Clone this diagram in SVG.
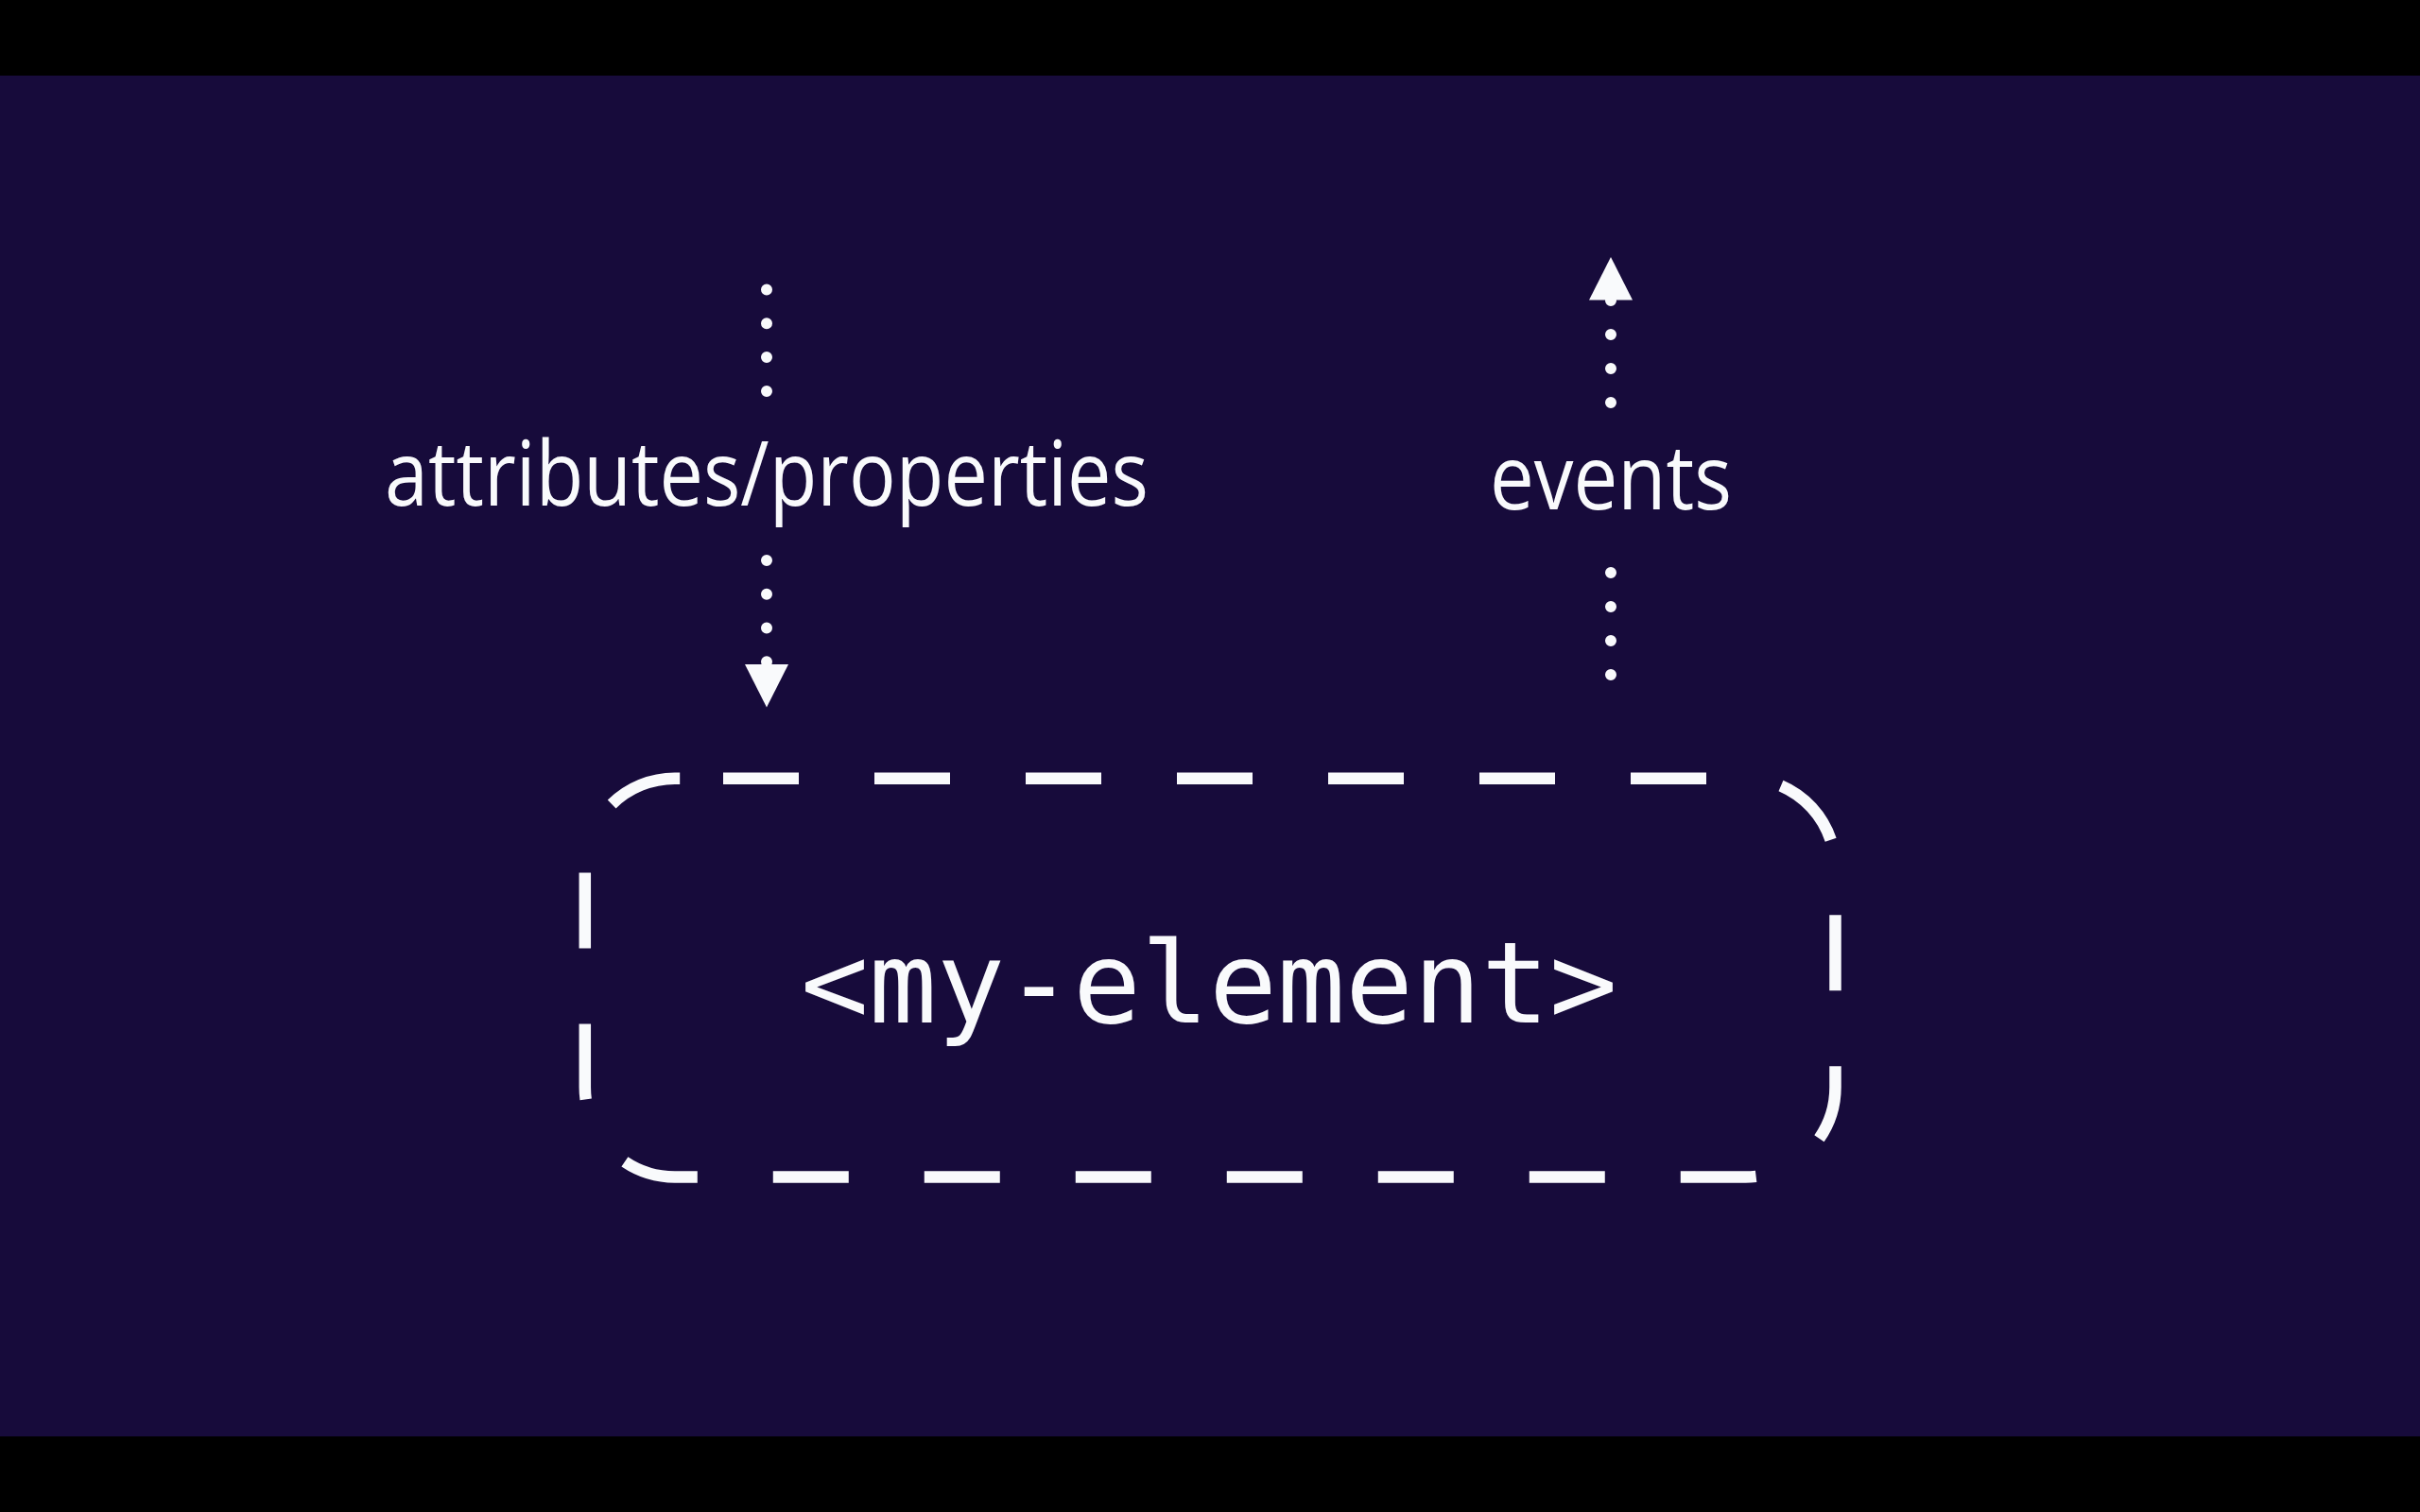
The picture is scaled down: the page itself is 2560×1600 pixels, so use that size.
<svg xmlns="http://www.w3.org/2000/svg" width="2560" height="1600" viewBox="0 0 2560 1600">
  <defs>
    <style>
      .label { font-family: "Open Sans", "Noto Sans", "Liberation Sans", sans-serif; font-size: 96px; fill: #f9fafc; }
      .code { font-family: "DejaVu Sans Mono", "Liberation Mono", monospace; font-size: 119px; fill: #f9fafc; }
      .dots { fill: none; stroke: #f9fafc; stroke-width: 12; stroke-linecap: round; }
      .box { fill: none; stroke: #f9fafc; stroke-width: 12.5; stroke-dasharray: 80 80; stroke-dashoffset: 114.2; }
    </style>
    <marker id="arrow" markerUnits="userSpaceOnUse" markerWidth="46" markerHeight="46" viewBox="0 0 46 46" refX="0" refY="23" orient="auto">
      <path d="M0 0 L45.5 23 L0 46 Z" fill="#f9fafc"/>
    </marker>
  </defs>

  <rect x="0" y="0" width="2560" height="1600" fill="#170b3b"/>
  <rect x="0" y="0" width="2560" height="80" fill="#000000"/>
  <rect x="0" y="1520" width="2560" height="80" fill="#000000"/>

  <g id="connectors">
    <path class="dots" d="M811 306.5 V414" style="stroke-dasharray:0 35.8"/>
    <path class="dots" d="M811 592.9 V703" style="stroke-dasharray:0 35.8" marker-end="url(#arrow)"/>
    <path class="dots" d="M1704 714 V605" style="stroke-dasharray:0 36"/>
    <path class="dots" d="M1704 426 V317.5" style="stroke-dasharray:0 36" marker-end="url(#arrow)"/>
  </g>

  <g id="label-attributes">
    <text class="label" x="811" y="535" text-anchor="middle" textLength="808" lengthAdjust="spacingAndGlyphs">attributes/properties</text>
  </g>

  <g id="label-events">
    <text class="label" x="1704" y="539" text-anchor="middle" textLength="256" lengthAdjust="spacingAndGlyphs">events</text>
  </g>

  <g id="my-element">
    <path class="box" d="M719.2 823.7 H1846.5 A95 95 0 0 1 1941.5 918.7 V1150.5 A95 95 0 0 1 1846.5 1245.5 H713.8 A95 95 0 0 1 618.8 1150.5 V918.7 A95 95 0 0 1 713.8 823.7 Z"/>
    <text class="code" x="1279" y="1081.5" text-anchor="middle" textLength="864" lengthAdjust="spacingAndGlyphs">&lt;my-element&gt;</text>
  </g>
</svg>
